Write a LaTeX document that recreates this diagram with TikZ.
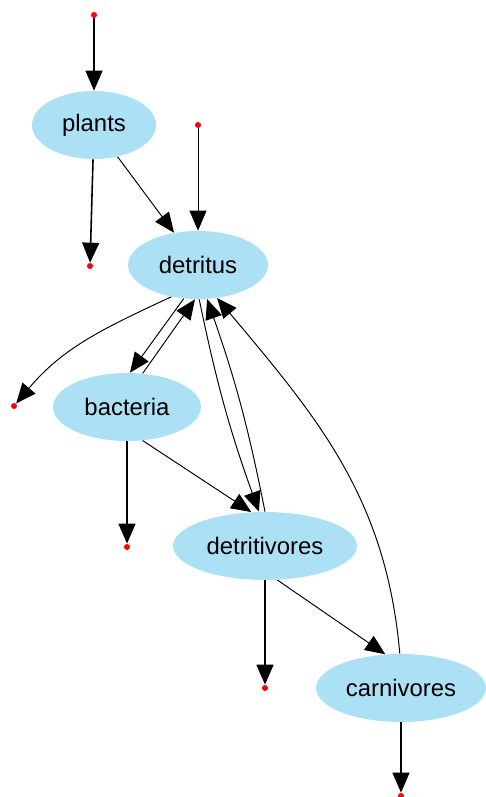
\documentclass[tikz,border=0pt]{standalone}
\usepackage{fontspec}
\setmainfont{Liberation Sans}
\usepackage{xcolor}
\usetikzlibrary{shapes, arrows.meta, positioning, calc}
\definecolor{nodeblue}{RGB}{172,224,244}

\begin{document}
\begin{tikzpicture}[x=0.02cm, y=-0.02cm,
    species/.style={ellipse, fill=nodeblue, inner sep=0pt, minimum height=1.36cm,
      font=\fontsize{13.6}{16}\selectfont},
    flow/.style={-{Triangle[length=0.4cm, width=0.34cm]}, line width=0.55pt},
    heavy/.style={flow, line width=0.9pt},
    sink/.style={circle, fill=red, inner sep=0pt, minimum size=0.12cm}]
          \useasboundingbox (0,0) rectangle (486,797);

          \node[species, minimum width=2.48cm] (P) at (94,125) {plants};
          \node[species, minimum width=2.8cm] (D) at (198,265) {detritus};
          \node[species, minimum width=2.96cm] (B) at (127,407) {bacteria};
          \node[species, minimum width=3.68cm] (V) at (265,546) {detritivores};
          \node[species, minimum width=3.4cm] (C) at (401,688) {carnivores};

          \node[sink] (P0) at (94,15) {};
          \node[sink] (P1) at (90,266) {};
          \node[sink] (D0) at (198,125) {};
          \node[sink] (D1) at (14,406) {};
          \node[sink] (B1) at (127,547) {};
          \node[sink] (V1) at (265,688) {};
          \node[sink] (C1) at (401,796) {};

          \draw[heavy] (P0) -- (P);
          \draw[heavy] (P) -- (P1);
          \draw[flow] (P) -- (D);
          \draw[flow] (D0) -- (D);
          \draw[flow] (D.230) to[out=205, in=50] (D1);
          \draw[flow] (D.247) -- (B.85);
          \draw[flow] (B.65) -- (D.265);
          \draw[flow] (D.272) to[bend right=4] (V.100);
          \draw[flow] (V.90) to[bend right=4] (D.285);
          \draw[flow] (C.92) to[out=95, in=-50] (D.300);
          \draw[flow] (B.-65) -- (V.112);
          \draw[heavy] (B) -- (B1);
          \draw[heavy] (V) -- (V1);
          \draw[flow] (V.-70) -- (C.115);
          \draw[heavy] (C) -- (C1);
        \end{tikzpicture}
\end{document}
